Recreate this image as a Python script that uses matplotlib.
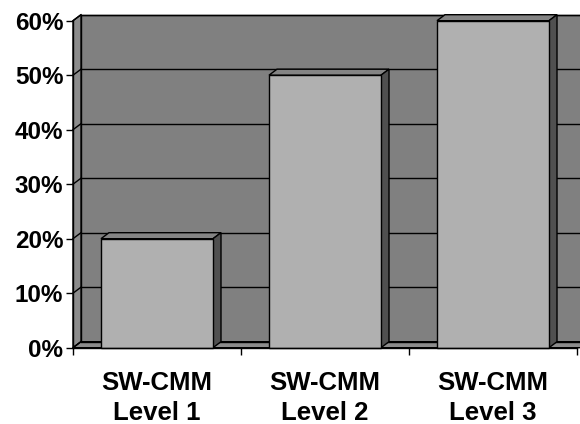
import matplotlib
matplotlib.use('Agg')
import matplotlib.pyplot as plt
from matplotlib.patches import Polygon, Rectangle
import numpy as np

plt.rcParams['font.family'] = ['Liberation Sans', 'DejaVu Sans']

# 数据
categories = ['SW-CMM\nLevel 1', 'SW-CMM\nLevel 2', 'SW-CMM\nLevel 3']
values = [0.20, 0.50, 0.60]
yticks = [0.0, 0.1, 0.2, 0.3, 0.4, 0.5, 0.6]
ytick_labels = ['0%', '10%', '20%', '30%', '40%', '50%', '60%']

# 颜色
wall_c = '#808080'
side_wall_c = '#8c8c8c'
floor_c = '#8c8c8c'
bar_front_c = '#b0b0b0'
bar_top_c = '#848484'
bar_side_c = '#505050'

fig = plt.figure(figsize=(5.8, 4.24), dpi=100)
ax = fig.add_axes([73 / 580, (424 - 347.7) / 424, 504 / 580, 327 / 424])
n = len(categories)
ax.set_xlim(0, n)
ax.set_ylim(0, max(yticks))

# 深度偏移 (像素 -> 数据单位)
px_x = 504 / n
px_y = 327 / max(yticks)
DX = 8 / px_x
DY = 6 / px_y

# 背景墙
ax.add_patch(Rectangle((DX, DY), n + DX, max(yticks), facecolor=wall_c,
                       edgecolor='black', lw=1, clip_on=False, zorder=1))
# 左侧墙
ax.add_patch(Polygon([(0, 0), (0, max(yticks)), (DX, max(yticks) + DY), (DX, DY)],
                     closed=True, facecolor=side_wall_c, edgecolor='black', lw=1,
                     clip_on=False, zorder=1))
# 底面
ax.add_patch(Polygon([(0, 0), (n + DX, 0), (n + 2 * DX, DY), (DX, DY)],
                     closed=True, facecolor=floor_c, edgecolor='black', lw=1,
                     clip_on=False, zorder=1))
# 网格线
for v in yticks:
    ax.plot([DX, n + 2 * DX], [v + DY, v + DY], color='black', lw=1,
            clip_on=False, zorder=2)
    ax.plot([0, DX], [v, v + DY], color='black', lw=1, clip_on=False, zorder=2)

# 柱子
w = 112 / 168
for i, v in enumerate(values):
    x0 = i + 0.5 - w / 2
    x1 = i + 0.5 + w / 2
    ax.add_patch(Polygon([(x0, v), (x1, v), (x1 + DX, v + DY), (x0 + DX, v + DY)],
                         closed=True, facecolor=bar_top_c, edgecolor='black', lw=1,
                         clip_on=False, zorder=3))
    ax.add_patch(Polygon([(x1, 0), (x1, v), (x1 + DX, v + DY), (x1 + DX, DY)],
                         closed=True, facecolor=bar_side_c, edgecolor='black', lw=1,
                         clip_on=False, zorder=3))
    ax.add_patch(Rectangle((x0, 0), w, v, facecolor=bar_front_c, edgecolor='black',
                           lw=1, clip_on=False, zorder=4))

# 坐标轴
ax.set_facecolor('none')
for s in ['top', 'right']:
    ax.spines[s].set_visible(False)
for s in ['left', 'bottom']:
    ax.spines[s].set_color('black')
    ax.spines[s].set_linewidth(1)
    ax.spines[s].set_zorder(5)
    ax.spines[s].set_bounds(0, n if s == 'bottom' else max(yticks))

ax.set_yticks(yticks)
ax.set_yticklabels(ytick_labels, fontsize=17.5, fontweight='bold')
ax.set_xticks(np.arange(n + 1))
ax.set_xticklabels([])
ax.set_xticks(np.arange(n) + 0.5, minor=True)
ax.set_xticklabels(categories, minor=True, fontsize=18.5, fontweight='bold',
                   linespacing=1.3)
ax.tick_params(axis='y', length=5, width=1, direction='out', pad=2)
ax.tick_params(axis='x', which='major', length=5, width=1, direction='out')
ax.tick_params(axis='x', which='minor', length=0, pad=17)

fig.savefig('out.png', dpi=100)
